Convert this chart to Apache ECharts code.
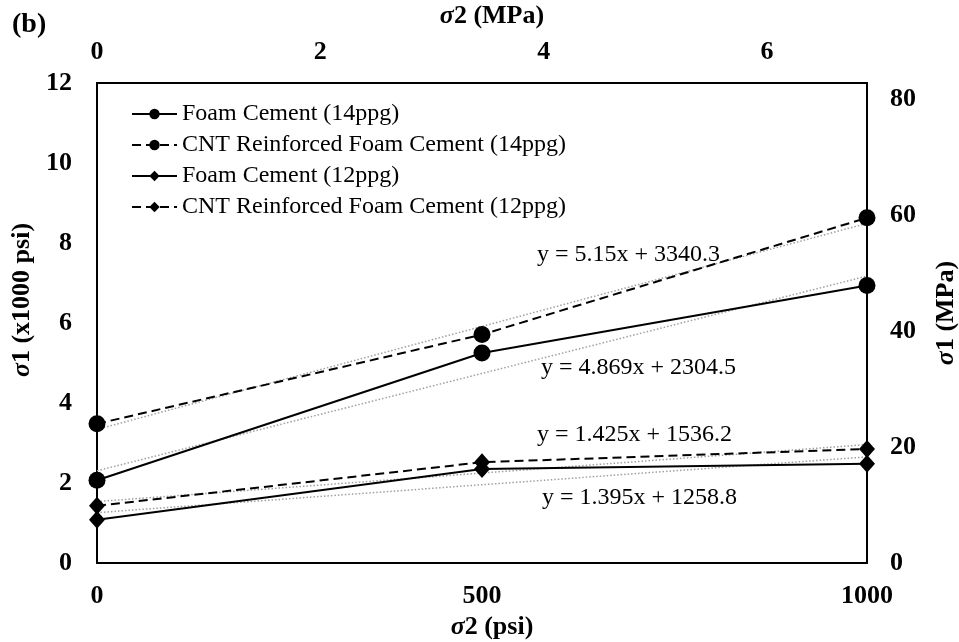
<!DOCTYPE html>
<html>
<head>
<meta charset="utf-8">
<script src="https://cdn.jsdelivr.net/npm/echarts@6/dist/echarts.min.js"></script>
<style>
  html, body { margin: 0; padding: 0; background: #fff; }
  #chart { width: 959px; height: 642px; }
</style>
</head>
<body>
<div id="chart"></div>
<script>
// Confining stress σ2 (psi) and peak axial stress σ1 (x1000 psi)
const sigma2 = [0, 500, 1000];
const foam14 = [2.07, 5.25, 6.94];
const cnt14 = [3.48, 5.71, 8.63];
const foam12 = [1.08, 2.35, 2.48];
const cnt12 = [1.43, 2.52, 2.85];

const seriesNames = [
  'Foam Cement (14ppg)',
  'CNT Reinforced Foam Cement (14ppg)',
  'Foam Cement (12ppg)',
  'CNT Reinforced Foam Cement (12ppg)'
];

// Linear trendlines, y = slope·x + intercept (both in psi)
const trendSlopes = [4.869, 5.15, 1.395, 1.425];
const trendIntercepts = [2304.5, 3340.3, 1258.8, 1536.2];
const trendLabels = [
  'y = 4.869x + 2304.5',
  'y = 5.15x + 3340.3',
  'y = 1.395x + 1258.8',
  'y = 1.425x + 1536.2'
];

const PSI_TO_MPA = 0.006895;
const X_MAX_PSI = 1000;
const Y_MAX_KPSI = 12;

const FONT = '"Liberation Serif", "Times New Roman", serif';

function pairs(ys) {
  return sigma2.map((x, i) => [x, ys[i]]);
}

function trendPoints(k) {
  return [0, X_MAX_PSI].map(x => [x, (trendSlopes[k] * x + trendIntercepts[k]) / 1000]);
}

const chart = echarts.init(document.getElementById('chart'));

const tickLabel = { fontFamily: FONT, fontWeight: 'bold', fontSize: 26, color: '#000' };
function axisName(padding) {
  return {
    fontFamily: FONT, fontWeight: 'bold', fontSize: 26, color: '#000', padding: padding,
    rich: { s: { fontFamily: FONT, fontWeight: 'bold', fontStyle: 'italic', fontSize: 26, color: '#000' } }
  };
}
const frameLine = { show: true, onZero: false, lineStyle: { color: '#000', width: 2 } };

// Show labels only at whole multiples of the tick step (hides the unit-conversion max)
function onlyMultiples(step) {
  return v => (Math.abs(v / step - Math.round(v / step)) < 1e-6 ? String(Math.round(v)) : '');
}

const dataSeries = [
  { name: seriesNames[0], data: pairs(foam14), symbol: 'circle', symbolSize: 17, type: 'solid' },
  { name: seriesNames[1], data: pairs(cnt14), symbol: 'circle', symbolSize: 17, type: [9, 5] },
  { name: seriesNames[2], data: pairs(foam12), symbol: 'diamond', symbolSize: [16, 18], type: 'solid' },
  { name: seriesNames[3], data: pairs(cnt12), symbol: 'diamond', symbolSize: [16, 18], type: [9, 5] }
].map(s => ({
  name: s.name,
  type: 'line',
  xAxisIndex: 0,
  yAxisIndex: 0,
  data: s.data,
  symbol: s.symbol,
  symbolSize: s.symbolSize,
  showAllSymbol: true,
  lineStyle: { color: '#000', width: 2, type: s.type },
  itemStyle: { color: '#000', borderWidth: 0 },
  z: 5,
  animation: false
}));

const trendSeries = trendSlopes.map((_, k) => ({
  name: 'trend' + k,
  type: 'line',
  xAxisIndex: 0,
  yAxisIndex: 0,
  data: trendPoints(k),
  symbol: 'none',
  lineStyle: { color: '#a0a0a0', width: 1.5, type: [1.5, 2] },
  z: 3,
  silent: true,
  animation: false
}));

// Equation labels beside each trendline (vertical centres)
const labelPos = [[541, 368], [537, 255], [542, 498], [537, 435]];
const equationText = trendLabels.map((t, k) => ({
  type: 'text',
  left: labelPos[k][0],
  top: labelPos[k][1] - 12,
  style: { text: t, font: '24px ' + FONT, fill: '#000' },
  z: 10
}));

chart.setOption({
  animation: false,
  backgroundColor: '#fff',
  grid: { left: 97, right: 92, top: 83, bottom: 79, containLabel: false, outerBoundsMode: 'none' },
  legend: {
    data: seriesNames,
    orient: 'vertical',
    left: 126,
    top: 97,
    itemWidth: 45,
    itemHeight: 13,
    itemGap: 7,
    textStyle: { fontFamily: FONT, fontSize: 24, color: '#000' },
    selectedMode: false
  },
  xAxis: [
    {
      type: 'value', position: 'bottom', min: 0, max: X_MAX_PSI, interval: 500,
      axisLine: frameLine, axisTick: { show: false }, splitLine: { show: false },
      axisLabel: Object.assign({ margin: 20, formatter: onlyMultiples(500) }, tickLabel),
      name: '{s|σ}2 (psi)', nameLocation: 'middle', nameGap: 45, nameTextStyle: axisName([0, 0, 0, 20])
    },
    {
      type: 'value', position: 'top', min: 0, max: X_MAX_PSI * PSI_TO_MPA, interval: 2,
      axisLine: frameLine, axisTick: { show: false }, splitLine: { show: false },
      axisLabel: Object.assign({ margin: 18, showMaxLabel: false, formatter: onlyMultiples(2) }, tickLabel),
      name: '{s|σ}2 (MPa)', nameLocation: 'middle', nameGap: 54, nameTextStyle: axisName([0, 0, 0, 20])
    }
  ],
  yAxis: [
    {
      type: 'value', position: 'left', min: 0, max: Y_MAX_KPSI, interval: 2,
      axisLine: frameLine, axisTick: { show: false }, splitLine: { show: false },
      axisLabel: Object.assign({ margin: 25, formatter: onlyMultiples(2) }, tickLabel),
      name: '{s|σ}1 (x1000 psi)', nameLocation: 'middle', nameGap: 52, nameRotate: 90,
      nameTextStyle: axisName([0, 0, 0, 46])
    },
    {
      type: 'value', position: 'right', min: 0, max: Y_MAX_KPSI * 1000 * PSI_TO_MPA, interval: 20,
      axisLine: frameLine, axisTick: { show: false }, splitLine: { show: false },
      axisLabel: Object.assign({ margin: 23, showMaxLabel: false, formatter: onlyMultiples(20) }, tickLabel),
      name: '{s|σ}1 (MPa)', nameLocation: 'middle', nameGap: 66, nameRotate: 90,
      nameTextStyle: axisName([0, 0, 0, 20])
    }
  ],
  graphic: [
    {
      type: 'text', left: 12, top: 11,
      style: { text: '(b)', font: 'bold 28px ' + FONT, fill: '#000' }
    }
  ].concat(equationText),
  series: trendSeries.concat(dataSeries)
});
</script>
</body>
</html>
